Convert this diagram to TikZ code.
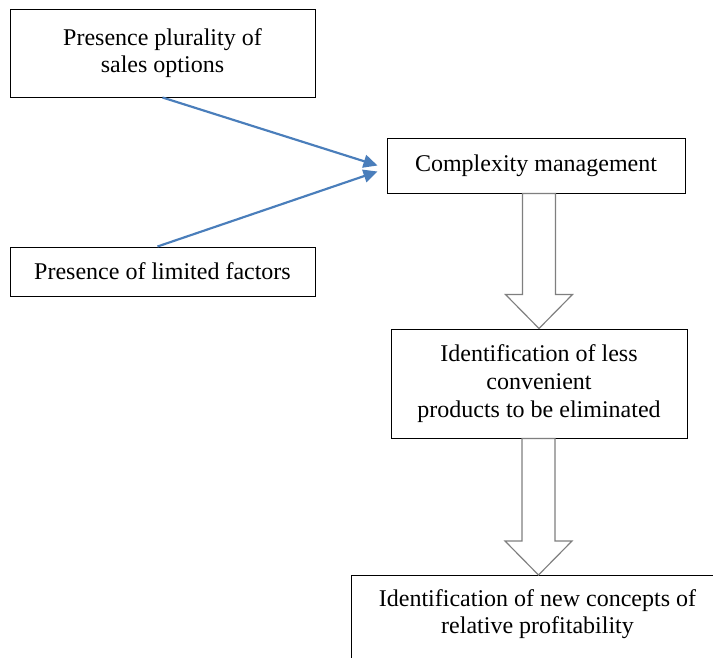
\documentclass[tikz,border=0pt]{standalone}
\usepackage{fontspec}
\setmainfont{Liberation Serif}
\usetikzlibrary{calc,arrows.meta}
\definecolor{linkblue}{HTML}{4A7EBB}
\definecolor{outlinegray}{HTML}{7F7F7F}
\newcommand{\blockarrow}[2]{%
\draw[bigarrow] ($(#1.south -| #2.north)+(-16.5,0)$) -- ($(#2.north)+(-16.5,-34)$)
  -- ($(#2.north)+(-33.5,-34)$) -- (#2.north) -- ($(#2.north)+(33.5,-34)$)
  -- ($(#2.north)+(16.5,-34)$) -- ($(#1.south -| #2.north)+(16.5,0)$) -- cycle;}

\begin{document}
\begin{tikzpicture}[x=0.6pt,y=-0.6pt]
\tikzset{box/.style={draw=black,line width=0.6pt,fill=white,align=center,
    inner sep=0pt,font=\fontsize{14.4}{16.6}\selectfont},
  link/.style={draw=linkblue,line width=1.3pt,-{Triangle[length=8.4pt,width=7.8pt]}},
  bigarrow/.style={draw=outlinegray,line width=0.7pt,fill=white}}
\useasboundingbox (0,0) rectangle (713,658);
% boxes
\node[box,minimum width=305*0.6pt,minimum height=88*0.6pt] (plural) at (162.5,53) {Presence plurality of\\sales options};
\node[box,minimum width=305*0.6pt,minimum height=49*0.6pt] (limited) at (162.5,271.5) {Presence of limited factors};
\node[box,minimum width=298*0.6pt,minimum height=55*0.6pt] (complex) at (536,165.5) {Complexity management};
\node[box,minimum width=296*0.6pt,minimum height=109*0.6pt] (lessconv) at (539,383.5) {Identification of less\\convenient\\products to be eliminated};
\node[box,anchor=north west,minimum width=374*0.6pt,minimum height=100*0.6pt] (profit) at (351,575) {};
\node[font=\fontsize{14.4}{16.6}\selectfont,align=center,inner sep=0pt] (profittext) at (537.5,614) {Identification of new concepts of\\relative profitability};
% connectors
\draw[link] (plural.south) -- ($(complex.west)+(-9,0)$);
\draw[link] ($(limited.north)+(-5,0)$) -- ($(complex.west)+(-9,6)$);
\blockarrow{complex}{lessconv}
\blockarrow{lessconv}{profit}
\end{tikzpicture}
\end{document}
